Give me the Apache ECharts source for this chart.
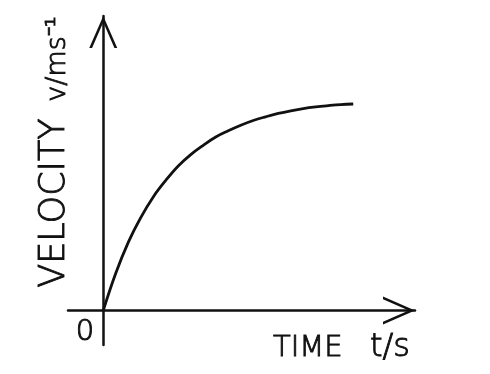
<!DOCTYPE html>
<html>
<head>
<meta charset="utf-8">
<script src="https://cdn.jsdelivr.net/npm/echarts@6/dist/echarts.min.js"></script>
<style>
html,body{margin:0;padding:0;background:#fff;}
#chart{width:490px;height:374px;}
</style>
</head>
<body>
<div id="chart"></div>
<script>
// Time values (s) along the curve
var timeValues = [0, 0.5, 1, 1.5, 2, 2.5, 3, 3.5, 4, 4.5, 5, 5.5, 6, 6.5, 7, 7.5, 8, 8.5, 9, 9.5, 10];
// Velocity values (m/s)
var velocityValues = [0, 1.8, 3.3, 4.5, 5.5, 6.3, 7.0, 7.55, 8.0, 8.4, 8.7, 8.97, 9.2, 9.38, 9.54, 9.67, 9.78, 9.86, 9.92, 9.97, 10.0];
// Axis texts
var xAxisQuantity = 'TIME';
var xAxisUnit = 't/s';
var yAxisQuantity = 'VELOCITY';
var yAxisUnit = 'v/ms\u207B\u00B9';
var originLabel = '0';

var chart = echarts.init(document.getElementById('chart'), null, {renderer: 'canvas'});
var ink = '#111';
var font = 'DejaVu Sans';
var arrowPath = 'path://M0,100 L43.75,0 L87.5,100 L78.75,100 L43.75,19.5 L8.75,100 Z';
var points = timeValues.map(function (t, i) { return [t, velocityValues[i]]; });

function label(text, x, y, size, align, rotated) {
  return {
    type: 'text', x: x, y: y, rotation: rotated ? Math.PI / 2 : 0,
    style: {text: text, fill: ink, stroke: ink, lineWidth: 0.9, fontSize: size, fontWeight: 200,
      fontFamily: font, align: align, verticalAlign: 'middle'}
  };
}

chart.setOption({
  backgroundColor: '#fff',
  animation: false,
  grid: {left: 68, right: 75, top: 16, bottom: 29},
  xAxis: {
    type: 'value', min: -1.41, max: 12.47,
    axisLine: {show: true, onZero: true, lineStyle: {color: ink, width: 2.5},
      symbol: ['none', arrowPath], symbolSize: [28, 32], symbolOffset: [0, -16]},
    axisTick: {show: false}, axisLabel: {show: false}, splitLine: {show: false}
  },
  yAxis: {
    type: 'value', min: -1.67, max: 14.26,
    axisLine: {show: true, onZero: true, lineStyle: {color: ink, width: 2.5},
      symbol: ['none', arrowPath], symbolSize: [30, 32], symbolOffset: [0, -16]},
    axisTick: {show: false}, axisLabel: {show: false}, splitLine: {show: false}
  },
  series: [{
    type: 'line', data: points, smooth: 0.4, showSymbol: false, symbol: 'none',
    lineStyle: {color: ink, width: 2.8}
  }],
  graphic: [
    label(yAxisQuantity, 55, 203, 35, 'center', true),
    label(yAxisUnit, 58, 59, 27, 'center', true),
    label(xAxisQuantity, 273, 348, 29, 'left', false),
    label(xAxisUnit, 410, 348, 32, 'right', false),
    label(originLabel, 85, 332, 29, 'center', false)
  ]
});
</script>
</body>
</html>
